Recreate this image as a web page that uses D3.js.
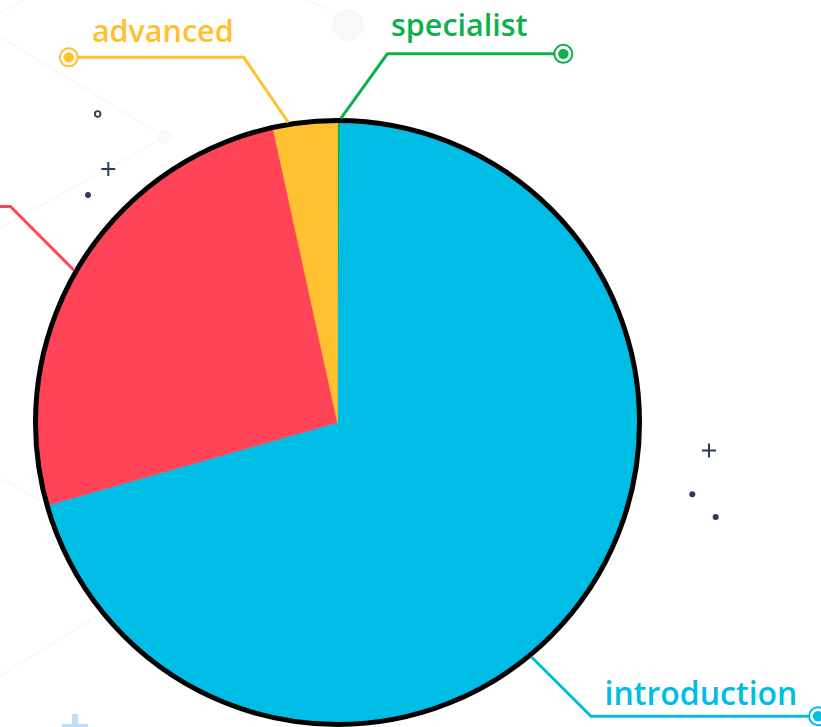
<!DOCTYPE html>
<html>
<head>
<meta charset="utf-8">
<script src="https://cdn.jsdelivr.net/npm/d3@7"></script>
<style>
  html, body { margin: 0; padding: 0; background: #ffffff; overflow: hidden; }
  svg { display: block; }
</style>
</head>
<body>
<svg id="chart" width="821" height="727"></svg>
<script>
// ---- data ----
const categories = ["specialist", "introduction", "intermediate", "advanced"];
const values = [1, 493, 182, 24];
const colors = ["#0DB14B", "#00BDE5", "#FF4458", "#FFC12F"];

// ---- layout (label leader lines; polar from pie centre) ----
const labelLayout = {
  specialist:   { tickDeg: 0.6,   bendDeg: 7.7,    bendR: 372, run: 176,  textDx: 72,  textDy: -18 },
  introduction: { tickDeg: 140.4, bendDeg: 139.2,  bendR: 388, run: 227,  textDx: 110, textDy: -11 },
  intermediate: { tickDeg: 300,   bendDeg: 303.45, bendR: 392, run: -175, textDx: -90, textDy: -15 },
  advanced:     { tickDeg: 350.7, bendDeg: 345.6,  bendR: 377, run: -175, textDx: -81, textDy: -15 }
};

const W = 821, H = 727;
const cx = 337.5, cy = 422.5, R = 302;
const svg = d3.select("#chart");

// ---- faint background decoration ----
const deco = svg.append("g").attr("stroke", "#f6f6f6").attr("stroke-width", 1.2).attr("fill", "none");
[[0,37,165,137],[165,137,0,228],[0,13,25,0],[307,0,337,13],[0,478,40,500],[0,676,100,614]]
  .forEach(s => deco.append("line").attr("x1", s[0]).attr("y1", s[1]).attr("x2", s[2]).attr("y2", s[3]));
svg.append("circle").attr("cx", 348).attr("cy", 25).attr("r", 16).attr("fill", "#f8f8f8");
svg.append("circle").attr("cx", 165).attr("cy", 137).attr("r", 7).attr("fill", "#f8f8f8");

// dark glyphs
const dark = "#2E3A59";
const g2 = svg.append("g");
g2.append("circle").attr("cx", 97.7).attr("cy", 114).attr("r", 2.8).attr("fill", "none").attr("stroke", dark).attr("stroke-width", 1.8);
function plus(x, y, h, col, w) {
  g2.append("path").attr("d", `M${x-h},${y}H${x+h}M${x},${y-h}V${y+h}`).attr("stroke", col).attr("stroke-width", w).attr("fill", "none");
}
plus(108.3, 169, 7, dark, 2);
plus(709, 450.5, 7, dark, 2);
[[88, 195], [692.3, 494.3], [715.7, 517]].forEach(p =>
  g2.append("circle").attr("cx", p[0]).attr("cy", p[1]).attr("r", 3).attr("fill", dark));
plus(75, 727, 13, "#BFDCFF", 6);

// ---- pie ----
const data = categories.map((c, i) => ({ name: c, value: values[i], color: colors[i] }));
const pie = d3.pie().value(d => d.value).sort(null);
const arcs = pie(data);
const arc = d3.arc().innerRadius(0).outerRadius(R);

const g = svg.append("g").attr("transform", `translate(${cx},${cy})`);
g.selectAll("path.slice").data(arcs).join("path")
  .attr("class", "slice")
  .attr("d", arc)
  .attr("fill", d => d.data.color)
  .attr("stroke", d => d.data.color)
  .attr("stroke-width", 0.6);
g.append("circle").attr("r", R).attr("fill", "none").attr("stroke", "#000").attr("stroke-width", 5);

// ---- labels ----
const rad = deg => deg * Math.PI / 180;
const lab = g.append("g");
arcs.forEach(a => {
  const L = labelLayout[a.data.name];
  const col = a.data.color;
  const p0 = d3.pointRadial(rad(L.tickDeg), R + 2);
  const p1 = d3.pointRadial(rad(L.bendDeg), L.bendR);
  const p2 = [p1[0] + L.run, p1[1]];
  lab.append("path")
    .attr("d", d3.line()([p0, p1, p2]))
    .attr("fill", "none").attr("stroke", col).attr("stroke-width", 3);
  lab.append("circle").attr("cx", p2[0]).attr("cy", p2[1]).attr("r", 9)
    .attr("fill", "#fff").attr("stroke", col).attr("stroke-width", 2);
  lab.append("circle").attr("cx", p2[0]).attr("cy", p2[1]).attr("r", 5.2).attr("fill", col);
  const tx = p1[0] + L.textDx;
  // the label of a slice whose label sits beyond the left edge is not visible in the picture
  if (cx + tx - 60 < 0) return;
  lab.append("text")
    .attr("x", tx).attr("y", p1[1] + L.textDy)
    .attr("text-anchor", "middle")
    .attr("font-family", "'Open Sans', Lato, sans-serif")
    .attr("font-weight", 600)
    .attr("font-size", a.data.name === "introduction" ? 32 : 30.5)
    .attr("fill", col)
    .text(a.data.name);
});
</script>
</body>
</html>
